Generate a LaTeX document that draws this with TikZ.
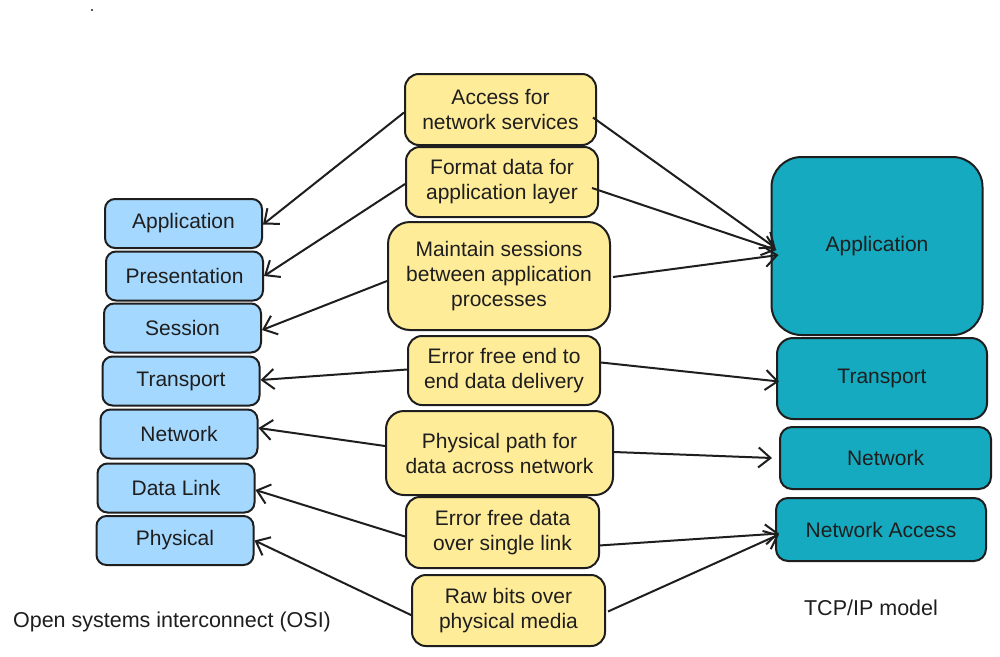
\documentclass[tikz,border=0pt]{standalone}
\usepackage{fontspec}
\setmainfont{Liberation Sans}
\usetikzlibrary{arrows.meta}
\definecolor{osiblue}{HTML}{A5D8FF}
\definecolor{noteyellow}{HTML}{FFEC99}
\definecolor{tcpteal}{HTML}{15AABF}
\definecolor{ink}{HTML}{1E1E1E}
\begin{document}
\begin{tikzpicture}[x=1pt,y=-1pt,
 box/.style={draw=ink, line width=2pt, inner sep=0pt, align=center, text=ink, font=\fontsize{21}{25}\selectfont},
 osi/.style={box, fill=osiblue, rounded corners=10pt, minimum width=157pt, minimum height=49pt},
 note/.style={box, fill=noteyellow, rounded corners=14pt},
 tcp/.style={box, fill=tcpteal},
 arr/.style={draw=ink, line width=2pt, -{Straight Barb[length=12pt,width=20pt,line width=2pt]}},
 captiontext/.style={text=ink, font=\fontsize{21.5}{25}\selectfont}
]
\useasboundingbox (0,0) rectangle (1000,656);
\fill[white] (0,0) rectangle (1000,656);
\node[circle, fill=ink, inner sep=0.8pt] (dot) at (92,10) {};

% OSI layers
\node[osi] (oapp) at (183.5,223.5) {Application};
\node[osi] (opre) at (184.5,276) {Presentation};
\node[osi] (oses) at (182.5,328) {Session};
\node[osi] (otra) at (181,381) {Transport};
\node[osi] (onet) at (179,434) {Network};
\node[osi] (odl) at (176,488) {Data Link};
\node[osi] (ophy) at (175,540.5) {Physical};

% notes
\node[note, minimum width=191pt, minimum height=71pt] (acc) at (500.5,109.5) {Access for\\network services};
\node[note, minimum width=192pt, minimum height=70pt] (fmt) at (502,182) {Format data for\\application layer};
\node[note, minimum width=222pt, minimum height=108pt, rounded corners=22pt] (mnt) at (499,276) {Maintain sessions\\between application\\processes};
\node[note, minimum width=192pt, minimum height=69pt] (ere) at (504,370.5) {Error free end to\\end data delivery};
\node[note, minimum width=227pt, minimum height=84pt, rounded corners=18pt] (ppth) at (499.5,453) {Physical path for\\data across network};
\node[note, minimum width=193pt, minimum height=71pt] (efd) at (502.5,532.5) {Error free data\\over single link};
\node[note, minimum width=193pt, minimum height=71pt] (raw) at (508.5,610.5) {Raw bits over\\physical media};

% TCP/IP layers
\node[tcp, minimum width=211pt, minimum height=178pt, rounded corners=30pt] (tapp) at (877,246) {Application};
\node[tcp, minimum width=210pt, minimum height=81pt, rounded corners=16pt] (ttr) at (882,378.5) {Transport};
\node[tcp, minimum width=211pt, minimum height=62pt, rounded corners=12pt] (tnet) at (885.5,458) {Network};
\node[tcp, minimum width=210pt, minimum height=63pt, rounded corners=12pt] (tna) at (881,529.5) {Network Access};

% captions
\node[captiontext] (osicap) at (172,622) {Open systems interconnect (OSI)};
\node[captiontext] (tcpcap) at (871,608) {TCP/IP model};

% arrows to OSI
\draw[arr] ([yshift=-3pt]acc.west) -- ([yshift=-1pt]oapp.east);
\draw[arr] ([yshift=-2pt]fmt.west) -- (opre.east);
\draw[arr] ([yshift=-5pt]mnt.west) -- ([yshift=-2pt]oses.east);
\draw[arr] ([yshift=1pt]ere.west) -- ([yshift=1pt]otra.east);
\draw[arr] ([yshift=7pt]ppth.west) -- ([yshift=6pt]onet.east);
\draw[arr] ([yshift=-4pt]efd.west) -- ([yshift=-2pt]odl.east);
\draw[arr] ([xshift=1pt,yshift=-5pt]raw.west) -- (ophy.east);

% arrows to TCP/IP
\draw[arr] ([xshift=-4pt,yshift=-8pt]acc.east) -- ([xshift=5pt,yshift=-2pt]tapp.west);
\draw[arr] ([xshift=-7pt,yshift=-6pt]fmt.east) -- ([xshift=6pt,yshift=-4pt]tapp.west);
\draw[arr] ([xshift=2pt,yshift=-1pt]mnt.east) -- ([xshift=8pt,yshift=-9pt]tapp.west);
\draw[arr] ([yshift=8pt]ere.east) -- ([xshift=3pt,yshift=-3pt]ttr.west);
\draw[arr] ([yshift=1pt]ppth.east) -- ([xshift=-7pt]tnet.west);
\draw[arr] ([xshift=-1pt,yshift=-13pt]efd.east) -- ([xshift=4pt,yshift=-4pt]tna.west);
\draw[arr] ([xshift=2pt,yshift=-1pt]raw.east) -- ([xshift=4pt,yshift=-5pt]tna.west);
\end{tikzpicture}
\end{document}
